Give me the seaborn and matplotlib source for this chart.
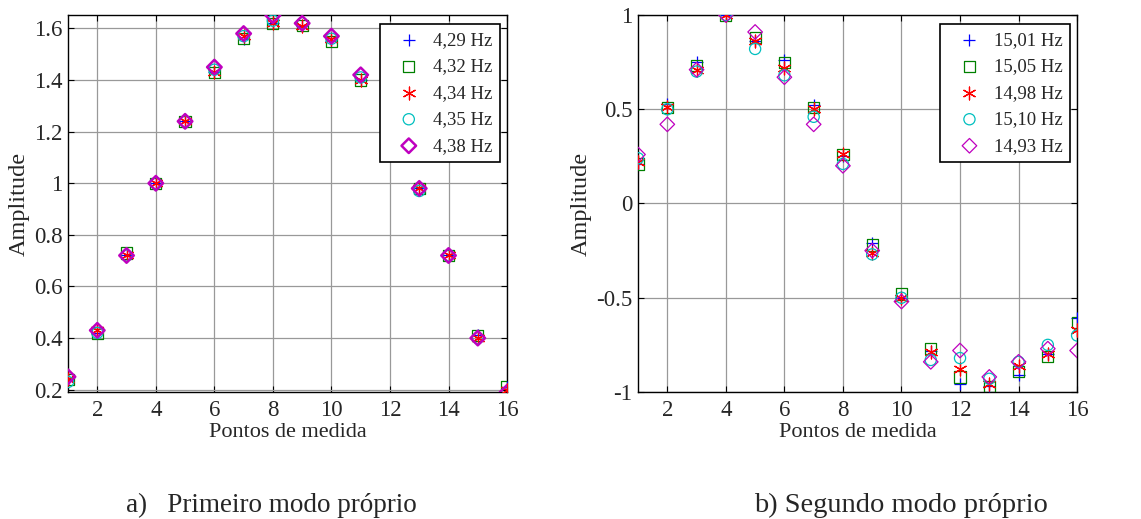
import numpy as np
import pandas as pd
import matplotlib
matplotlib.use("Agg")
import matplotlib.pyplot as plt
import seaborn as sns

# measurement points
pontos = list(range(1, 17))

# first mode (five measurements)
labels_a = ["4,29 Hz", "4,32 Hz", "4,34 Hz", "4,35 Hz", "4,38 Hz"]
modo1_429 = [0.24, 0.42, 0.72, 1.00, 1.24, 1.43, 1.56, 1.62, 1.61, 1.55, 1.40, 1.20, 0.98, 0.72, 0.41, 0.21]
modo1_432 = [0.24, 0.42, 0.73, 1.00, 1.24, 1.43, 1.56, 1.62, 1.61, 1.55, 1.40, 1.20, 0.98, 0.72, 0.41, 0.21]
modo1_434 = [0.24, 0.43, 0.72, 1.00, 1.24, 1.43, 1.57, 1.62, 1.61, 1.56, 1.40, 1.20, 0.98, 0.72, 0.40, 0.20]
modo1_435 = [0.23, 0.42, 0.72, 1.00, 1.24, 1.44, 1.57, 1.63, 1.62, 1.56, 1.41, 1.21, 0.97, 0.72, 0.40, 0.19]
modo1_438 = [0.25, 0.43, 0.72, 1.00, 1.24, 1.45, 1.58, 1.65, 1.62, 1.57, 1.42, 1.21, 0.98, 0.72, 0.40, 0.19]

# second mode (five measurements)
labels_b = ["15,01 Hz", "15,05 Hz", "14,98 Hz", "15,10 Hz", "14,93 Hz"]
modo2_1501 = [0.21, 0.53, 0.75, 1.00, 0.86, 0.76, 0.52, 0.25, -0.21, -0.50, -0.78, -0.96, -0.97, -0.91, -0.80, -0.61]
modo2_1505 = [0.21, 0.51, 0.73, 1.00, 0.88, 0.75, 0.51, 0.26, -0.22, -0.48, -0.77, -0.92, -0.97, -0.89, -0.81, -0.63]
modo2_1498 = [0.22, 0.51, 0.71, 1.00, 0.86, 0.72, 0.50, 0.26, -0.26, -0.50, -0.79, -0.88, -0.96, -0.86, -0.80, -0.67]
modo2_1510 = [0.24, 0.50, 0.70, 1.00, 0.82, 0.68, 0.46, 0.21, -0.27, -0.50, -0.83, -0.82, -0.93, -0.84, -0.75, -0.70]
modo2_1493 = [0.26, 0.42, 0.71, 1.00, 0.91, 0.67, 0.42, 0.20, -0.25, -0.52, -0.84, -0.78, -0.92, -0.84, -0.77, -0.78]

cores = ["#0000ff", "#008000", "#ff0000", "#00bfbf", "#bf00bf"]
marcadores = ["+", "s", (6, 2, 0), "o", "D"]

sns.set_style("ticks")
plt.rcParams["font.family"] = ["Liberation Serif", "DejaVu Serif"]

fig = plt.figure(figsize=(11.41, 5.19), dpi=100)
ax1 = fig.add_axes([0.0596, 0.2447, 0.3848, 0.7264])
ax2 = fig.add_axes([0.5592, 0.2447, 0.3848, 0.7264])


def desenha(ax, series, labels, diamond_lw):
    for i, (vals, lab) in enumerate(zip(series, labels)):
        m = marcadores[i]
        c = cores[i]
        if m in ("s", "o", "D"):
            lw = diamond_lw if m == "D" else 0.9
            size = 55 if m == "D" else 65
            sns.scatterplot(x=pontos, y=vals, ax=ax, marker=m, s=size,
                            facecolors="none", edgecolor=c, linewidth=lw,
                            label=lab, zorder=3)
        else:
            sns.scatterplot(x=pontos, y=vals, ax=ax, marker=m, s=85,
                            color=c, linewidth=0.9, label=lab, zorder=3)


def estilo(ax, ylim, yticks, ylabels):
    ax.set_xlim(1, 16)
    ax.set_ylim(*ylim)
    ax.set_xticks(range(2, 17, 2))
    ax.set_yticks(yticks)
    ax.set_yticklabels(ylabels)
    ax.grid(True, color="0.6", lw=0.9)
    ax.tick_params(direction="in", top=True, right=True, length=4,
                   labelsize=16.5, pad=4, width=0.8, color="k")
    ax.tick_params(axis="x", pad=6)
    for sp in ax.spines.values():
        sp.set_visible(True)
        sp.set_color("k")
        sp.set_linewidth(1.0)
    ax.set_xlabel("Pontos de medida", fontsize=16, labelpad=1)
    ax.set_ylabel("Amplitude", fontsize=17.5, labelpad=3)
    leg = ax.legend(loc="upper right", bbox_to_anchor=(0.984, 0.976),
                    fontsize=13.5, frameon=True, fancybox=False,
                    edgecolor="k", framealpha=1, handletextpad=0.15,
                    borderpad=0.4, labelspacing=0.5, handlelength=2.3,
                    borderaxespad=0)
    leg.get_frame().set_linewidth(1.2)
    leg.set_zorder(5)


desenha(ax1, [modo1_429, modo1_432, modo1_434, modo1_435, modo1_438], labels_a, 1.8)
estilo(ax1, (0.191, 1.652), [0.2, 0.4, 0.6, 0.8, 1.0, 1.2, 1.4, 1.6],
       ["0.2", "0.4", "0.6", "0.8", "1", "1.2", "1.4", "1.6"])

desenha(ax2, [modo2_1501, modo2_1505, modo2_1498, modo2_1510, modo2_1493], labels_b, 0.9)
estilo(ax2, (-1.0, 1.0), [-1, -0.5, 0, 0.5, 1], ["-1", "-0.5", "0", "0.5", "1"])

fig.text(0.2375, 0.0135, "a)   Primeiro modo próprio", fontsize=19.5, ha="center", va="baseline")
fig.text(0.7897, 0.0135, "b) Segundo modo próprio", fontsize=20.5, ha="center", va="baseline")

fig.savefig("out.png", dpi=100)
